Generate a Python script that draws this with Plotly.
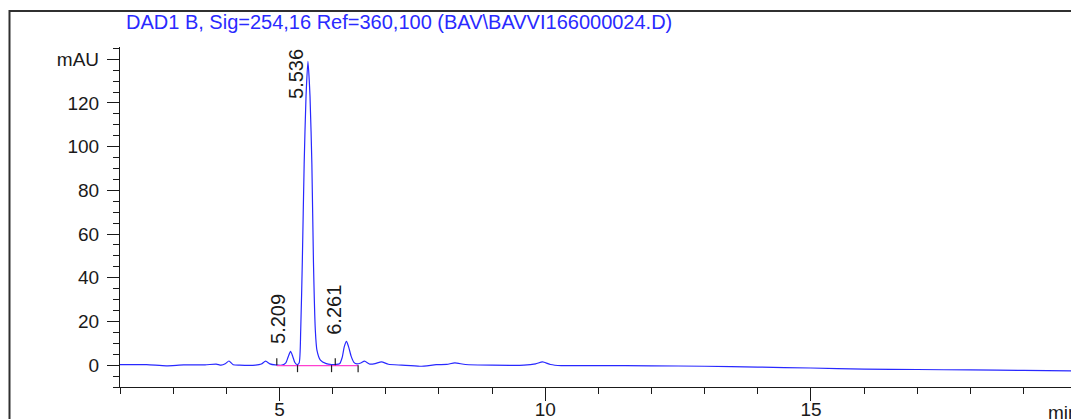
import plotly.graph_objects as go

# ---- data ----
time_min = [2.00, 2.50, 2.87, 3.20, 3.60, 3.81, 3.90, 3.98, 4.05, 4.13, 4.25, 4.55, 4.66, 4.74, 4.82, 4.92,
            5.05, 5.12, 5.16, 5.209, 5.25, 5.29, 5.33, 5.37, 5.40, 5.43, 5.465, 5.50, 5.536,
            5.575, 5.61, 5.64, 5.675, 5.705, 5.77, 5.88, 5.98, 6.06, 6.13, 6.18, 6.22, 6.261,
            6.30, 6.35, 6.40, 6.46, 6.53, 6.60, 6.70, 6.80, 6.92, 7.05, 7.30, 7.65, 7.95, 8.15,
            8.30, 8.50, 9.00, 9.60, 9.82, 9.95, 10.10, 10.30, 11.00, 12.00, 13.00, 14.00, 15.00,
            16.00, 17.00, 18.00, 19.00, 19.90]
signal_mau = [0.2, 0.2, -0.3, 0.1, 0.1, 0.5, 0.0, 0.6, 1.9, 0.2, 0.0, 0.0, 0.5, 1.8, 0.6, 0.1,
              0.0, 1.0, 3.5, 6.3, 4.0, 1.2, 0.3, 1.0, 16.0, 47.0, 92.0, 123.0, 139.0,
              123.0, 92.0, 47.0, 16.0, 6.9, 2.3, 0.7, 0.3, 0.3, 0.6, 3.5, 8.5, 10.9,
              8.5, 4.0, 1.3, 0.6, 1.0, 1.8, 0.5, 0.7, 1.5, 0.4, 0.0, -0.5, 0.2, 0.4,
              1.0, 0.3, 0.0, 0.0, 0.6, 1.5, 0.3, -0.2, -0.2, -0.3, -0.5, -0.9, -1.3,
              -1.8, -2.0, -2.2, -2.4, -2.6]

peak_times = [5.209, 5.536, 6.261]
peak_heights = [6.3, 139.0, 10.9]
peak_labels = ["5.209", "5.536", "6.261"]

baseline_start = 4.95
baseline_end = 6.48
event_times = [4.95, 5.34, 5.98, 6.05, 6.48]
event_dirs = [1, -1, -1, 1, -1]   # 1 = tick drawn upward, -1 = downward

y_tickvals = [0, 20, 40, 60, 80, 100, 120, 140]
y_ticktext = ["0", "20", "40", "60", "80", "100", "120", "mAU"]

title_text = "DAD1 B, Sig=254,16 Ref=360,100 (BAV\\BAVVI166000024.D)"

# ---- figure ----
W, H = 1071, 419
ML, MR, MT, MB = 120, 0, 47, 32
plot_w = W - ML - MR
plot_h = H - MT - MB
x_range = [2.0, 2.0 + plot_w / 53.15]
y_range = [-10.0, 145.6]
mau_per_px = (y_range[1] - y_range[0]) / plot_h

fig = go.Figure()

fig.add_trace(go.Scatter(
    x=time_min, y=signal_mau, mode="lines",
    line=dict(color="#2828ff", width=1.2, shape="spline", smoothing=0.6),
    hoverinfo="skip", showlegend=False))

# integration baseline
fig.add_trace(go.Scatter(
    x=[baseline_start, baseline_end], y=[-0.2, -0.2], mode="lines",
    line=dict(color="#ff40d0", width=1.3), showlegend=False, hoverinfo="skip"))

# event tick marks
tick_h = 7 * mau_per_px
ex, ey = [], []
for t, d in zip(event_times, event_dirs):
    ex += [t, t, None]
    ey += [0, d * tick_h, None]
fig.add_trace(go.Scatter(
    x=ex, y=ey, mode="lines", line=dict(color="#202020", width=1.2),
    showlegend=False, hoverinfo="skip"))

font_main = "Liberation Sans, Arial, sans-serif"

for t, h, lab in zip(peak_times, peak_heights, peak_labels):
    top_needed = h + (7 + 50) * mau_per_px
    if top_needed > y_range[1]:
        fig.add_annotation(x=t, y=1, xref="x", yref="paper", text=lab, textangle=-90,
                           showarrow=False, xanchor="right", yanchor="top", xshift=1,
                           font=dict(family=font_main, size=20, color="#1a1a1a"))
    else:
        fig.add_annotation(x=t, y=h, xref="x", yref="y", text=lab, textangle=-90,
                           showarrow=False, xanchor="right", yanchor="bottom", xshift=1, yshift=5,
                           font=dict(family=font_main, size=20, color="#1a1a1a"))

# axis unit label at the far right (cut by page edge)
fig.add_annotation(x=(1046 - ML) / plot_w, y=-(412 - (H - MB)) / plot_h,
                   xref="paper", yref="paper",
                   text="min", showarrow=False, xanchor="left", yanchor="middle",
                   font=dict(family=font_main, size=19, color="#1a1a1a"))

# outer frame
fig.add_shape(type="rect", xref="paper", yref="paper",
              x0=(9.5 - ML) / plot_w, x1=1.2,
              y0=-(440 - (H - MB)) / plot_h, y1=((H - MB) - 11) / plot_h,
              line=dict(color="#303030", width=2), fillcolor="rgba(0,0,0,0)", layer="above")

fig.update_layout(
    width=W, height=H,
    margin=dict(l=ML, r=MR, t=MT, b=MB, pad=0, autoexpand=False),
    paper_bgcolor="white", plot_bgcolor="white",
    font=dict(family=font_main, size=19, color="#1a1a1a"),
    title=dict(text=title_text, x=126 / W, xanchor="left", xref="container",
               y=1 - 22 / H, yanchor="middle", yref="container",
               font=dict(family=font_main, size=20, color="#2a2aff"), automargin=False),
    showlegend=False,
)
fig.update_xaxes(range=x_range, showline=True, linecolor="#1a1a1a", linewidth=1.2, automargin=False,
                 showgrid=False, zeroline=False, ticks="outside", ticklen=13, tickwidth=1.2,
                 tickcolor="#1a1a1a", tick0=0, dtick=5, ticklabelstandoff=-8,
                 minor=dict(ticks="outside", ticklen=6, dtick=1, tickcolor="#1a1a1a", tickwidth=1.2, showgrid=False))
fig.update_yaxes(range=y_range, showline=True, linecolor="#1a1a1a", linewidth=1.2, automargin=False,
                 showgrid=False, zeroline=False, ticks="outside", ticklen=12, tickwidth=1.2,
                 tickcolor="#1a1a1a", tickmode="array", tickvals=y_tickvals, ticktext=y_ticktext,
                 ticklabelstandoff=4,
                 minor=dict(ticks="outside", ticklen=6, dtick=5, tick0=0, tickcolor="#1a1a1a", tickwidth=1.2, showgrid=False))

fig.write_html(
    "out.html",
    config={"displayModeBar": False},
    post_script="document.body.style.margin='0';document.body.style.overflow='hidden';",
)
